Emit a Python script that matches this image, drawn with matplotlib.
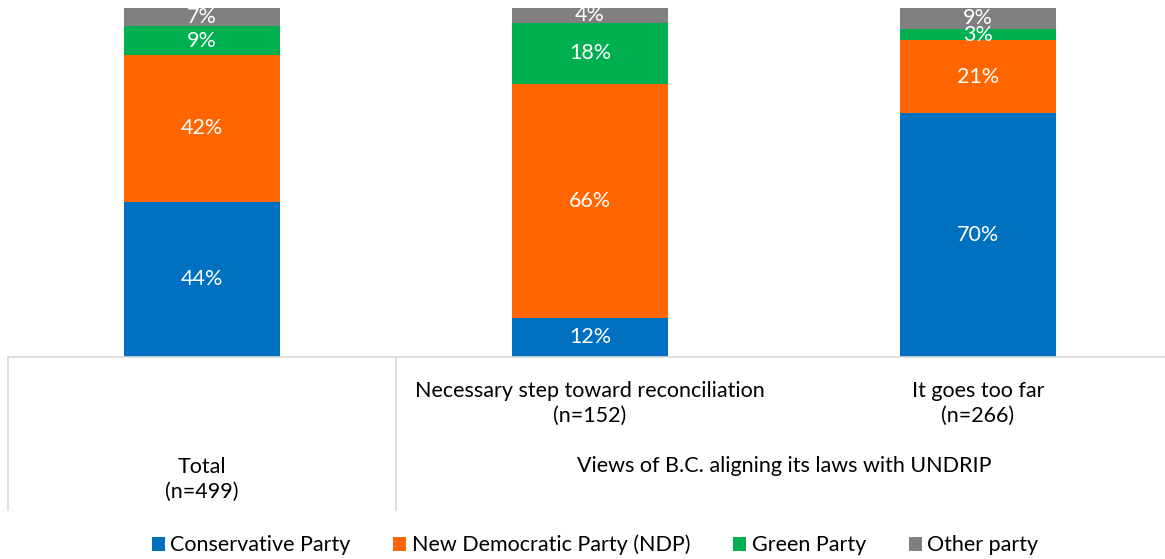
import matplotlib
matplotlib.use("Agg")
import matplotlib.pyplot as plt
from matplotlib.patches import Patch
import numpy as np

plt.rcParams['font.family'] = ['Lato', 'DejaVu Sans']

categories = ["Total\n(n=499)",
              "Necessary step toward reconciliation\n(n=152)",
              "It goes too far\n(n=266)"]
group_label = "Views of B.C. aligning its laws with UNDRIP"
series = ["Conservative Party", "New Democratic Party (NDP)", "Green Party", "Other party"]
colors = ["#0070C0", "#FF6600", "#00B050", "#808080"]

# displayed labels (%)
conservative_lbl = [44, 12, 70]
ndp_lbl = [42, 66, 21]
green_lbl = [9, 18, 3]
other_lbl = [7, 4, 9]

# bar segment shares as drawn (%)
conservative = [44.4, 11.3, 69.7]
ndp = [42.0, 66.9, 20.9]
green = [8.3, 17.4, 3.2]
other = [5.3, 4.4, 6.2]

FS = 15.5

W, H = 1165, 559
fig = plt.figure(figsize=(W / 100, H / 100), dpi=100)
left_px, right_px, top_px, bot_px = 8, 1165, 7.5, 357
ax = fig.add_axes([left_px / W, 1 - bot_px / H, (right_px - left_px) / W, (bot_px - top_px) / H])

x = np.arange(len(categories))
vals = [conservative, ndp, green, other]
lbls = [conservative_lbl, ndp_lbl, green_lbl, other_lbl]
bottom = np.zeros(len(categories))
for v, l, c in zip(vals, lbls, colors):
    v = np.array(v)
    ax.bar(x, v, width=0.4, bottom=bottom, color=c, edgecolor='none')
    for xi, bi, vi, li in zip(x, bottom, v, l):
        ax.text(xi, bi + vi / 2, f"{li}%", ha='center', va='center',
                color='white', fontsize=FS)
    bottom += v

ax.set_ylim(0, 100)
ax.set_xlim(-0.5, -0.5 + (right_px - left_px) / 388.0)
for s in ['top', 'right', 'left']:
    ax.spines[s].set_visible(False)
ax.spines['bottom'].set_color('#d9d9d9')
ax.spines['bottom'].set_linewidth(1.2)
ax.set_yticks([])
ax.set_xticks([])

# category table lines
depth = -(510 - 357) / (bot_px - top_px)
trans = ax.get_xaxis_transform()
for xb in [-0.5, 0.5]:
    ax.plot([xb, xb], [0, depth], color='#d9d9d9', lw=1.2, transform=trans, clip_on=False)

def ypos(px):
    return -(px - bot_px) / (bot_px - top_px)

ax.text(1, ypos(403), categories[1], ha='center', va='center', fontsize=FS,
        transform=trans, linespacing=1.3)
ax.text(2, ypos(403), categories[2], ha='center', va='center', fontsize=FS,
        transform=trans, linespacing=1.3)
ax.text(0, ypos(479), categories[0], ha='center', va='center', fontsize=FS,
        transform=trans, linespacing=1.3)
ax.text(1.5, ypos(466), group_label, ha='center', va='center', fontsize=FS,
        transform=trans)

handles = [Patch(facecolor=c, edgecolor='none') for c in colors]
fig.legend(handles, series, loc='center', bbox_to_anchor=(595 / W, 1 - 545 / H),
           ncol=4, frameon=False, fontsize=FS, handlelength=0.6, handleheight=0.6,
           handletextpad=0.25, columnspacing=2.0)

fig.savefig("out.png", dpi=100)
